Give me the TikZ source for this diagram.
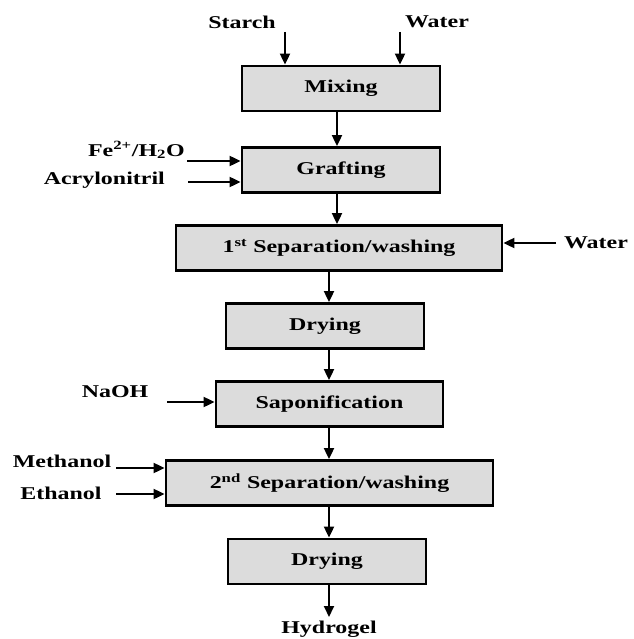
\documentclass[tikz,border=0pt]{standalone}
\usepackage{fontspec}
\usepackage{graphicx}
\setmainfont{Liberation Serif}
\usetikzlibrary{arrows.meta,calc}
\newcommand{\wt}[1]{\scalebox{1.33}[1]{\bfseries #1}}
\definecolor{boxgray}{HTML}{DCDCDC}
\tikzset{
  procbox/.style={draw=black, line width=2.8pt, fill=boxgray, inner sep=0pt, minimum height=45pt},
  lbl/.style={inner sep=0pt, font=\fontsize{18}{20}\selectfont},
  arr/.style={line width=1.9pt, -{Triangle[length=11pt,width=10pt]}}
}
\begin{document}
\begin{tikzpicture}[x=1pt,y=-1pt]
\useasboundingbox (0,0) rectangle (633,639);
% boxes
\node[procbox, lbl, minimum width=198pt] (mix) at (341,88.5) {\wt{Mixing}};
\node[procbox, lbl, minimum width=198pt] (graft) at (341,170) {\wt{Grafting}};
\node[procbox, lbl, minimum width=326pt] (sep1) at (339,248) {\wt{1\textsuperscript{st} Separation/washing}};
\node[procbox, lbl, minimum width=198pt] (dry1) at (325,326) {\wt{Drying}};
\node[procbox, lbl, minimum width=227pt] (sap) at (329.5,404) {\wt{Saponification}};
\node[procbox, lbl, minimum width=327pt] (sep2) at (329.5,483) {\wt{2\textsuperscript{nd} Separation/washing}};
\node[procbox, lbl, minimum width=198pt] (dry2) at (327,561.5) {\wt{Drying}};
% labels
\node[lbl] (starch) at (242,22) {\wt{Starch}};
\node[lbl] (water1) at (437,22) {\wt{Water}};
\node[lbl, anchor=east] (fe) at (185,150) {\wt{Fe\textsuperscript{2+}/H\textsubscript{2}O}};
\node[lbl, anchor=east] (acryl) at (165,180) {\wt{Acrylonitril}};
\node[lbl] (water2) at (596,243) {\wt{Water}};
\node[lbl] (naoh) at (115,392) {\wt{NaOH}};
\node[lbl] (meoh) at (62,461) {\wt{Methanol}};
\node[lbl] (etoh) at (61,493) {\wt{Ethanol}};
\node[lbl] (hydro) at (329,629) {\wt{Hydrogel}};
% free ends
\coordinate (cs) at (285,32);
\coordinate (cw) at (400,32);
\coordinate (cfe) at (187,161);
\coordinate (cac) at (188,182);
\coordinate (cw2) at (556,243);
\coordinate (cna) at (167,402);
\coordinate (cme) at (116,468);
\coordinate (cet) at (116,494);
\coordinate (cout) at (329,617);
% inputs
\draw[arr] (cs) -- (mix.north -| cs);
\draw[arr] (cw) -- (mix.north -| cw);
\draw[arr] (cfe) -- (graft.west |- cfe);
\draw[arr] (cac) -- (graft.west |- cac);
\draw[arr] (cw2) -- (sep1.east |- cw2);
\draw[arr] (cna) -- (sap.west |- cna);
\draw[arr] (cme) -- (sep2.west |- cme);
\draw[arr] (cet) -- (sep2.west |- cet);
% main flow
\draw[arr] (mix.south -| 337,0) -- (graft.north -| 337,0);
\draw[arr] (graft.south -| 337,0) -- (sep1.north -| 337,0);
\draw[arr] (sep1.south -| 329,0) -- (dry1.north -| 329,0);
\draw[arr] (dry1.south -| 329,0) -- (sap.north -| 329,0);
\draw[arr] (sap.south -| 329,0) -- (sep2.north -| 329,0);
\draw[arr] (sep2.south -| 329,0) -- (dry2.north -| 329,0);
\draw[arr] (dry2.south -| 329,0) -- (cout);
\end{tikzpicture}
\end{document}
